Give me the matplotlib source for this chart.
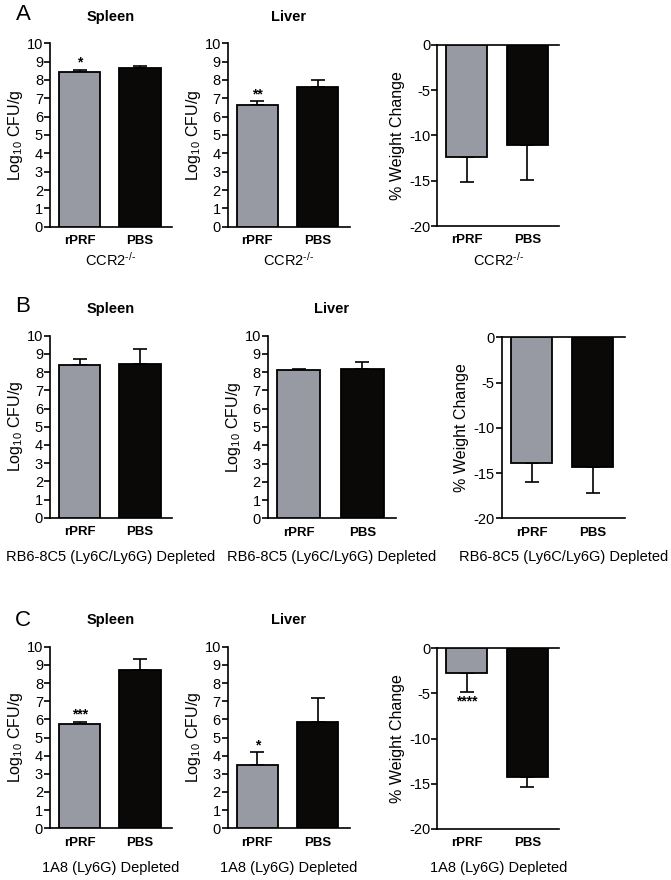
import matplotlib
matplotlib.use("Agg")
import matplotlib.pyplot as plt

plt.rcParams["font.family"] = ["Liberation Sans", "DejaVu Sans"]
plt.rcParams["axes.unicode_minus"] = False
plt.rcParams["mathtext.fontset"] = "custom"
plt.rcParams["mathtext.rm"] = "Liberation Sans"
plt.rcParams["mathtext.it"] = "Liberation Sans"

groups = ["rPRF", "PBS"]
bar_colors = ["#979aa2", "#0b0808"]

# A: CCR2-/-
a_spleen = [8.46, 8.67]
a_spleen_err = [0.09, 0.10]
a_spleen_stars = ["*", ""]
a_liver = [6.64, 7.64]
a_liver_err = [0.21, 0.36]
a_liver_stars = ["**", ""]
a_weight = [-12.4, -11.0]
a_weight_err = [2.7, 3.9]
a_weight_stars = ["", ""]

# B: RB6-8C5 depleted
b_spleen = [8.39, 8.45]
b_spleen_err = [0.33, 0.80]
b_spleen_stars = ["", ""]
b_liver = [8.12, 8.20]
b_liver_err = [0.07, 0.34]
b_liver_stars = ["", ""]
b_weight = [-13.9, -14.3]
b_weight_err = [2.05, 2.9]
b_weight_stars = ["", ""]

# C: 1A8 depleted
c_spleen = [5.72, 8.72]
c_spleen_err = [0.15, 0.60]
c_spleen_stars = ["***", ""]
c_liver = [3.49, 5.83]
c_liver_err = [0.69, 1.33]
c_liver_stars = ["*", ""]
c_weight = [-2.7, -14.23]
c_weight_err = [2.14, 1.11]
c_weight_stars = ["****", ""]

row_labels = ["A", "B", "C"]
group_labels = ["CCR2$^{\\text{-/-}}$", "RB6-8C5 (Ly6C/Ly6G) Depleted", "1A8 (Ly6G) Depleted"]

W, H = 671, 880
fig = plt.figure(figsize=(W / 100, H / 100), dpi=100)


def add_axes(x0, y0, x1, y1):
    # pixel box -> figure fraction
    return fig.add_axes([x0 / W, 1 - y1 / H, (x1 - x0) / W, (y1 - y0) / H])


def ftext(x, y, s, **kw):
    fig.text(x / W, 1 - y / H, s, **kw)


def style_axes(ax):
    for sp in ax.spines.values():
        sp.set_linewidth(1.2)
    ax.tick_params(axis="y", length=4, width=1.2, labelsize=10.5, pad=1)
    ax.tick_params(axis="x", length=0, pad=6)
    ax.set_xticks([0, 1])
    ax.set_xticklabels(groups, fontweight="bold", fontsize=9.5)
    ax.set_xlim(-0.49, 1.53)


def plot_cfu(ax, values, errs, stars):
    ax.bar([0, 1], values, width=0.68, color=bar_colors, edgecolor="black",
           linewidth=1.3, zorder=3)
    ax.errorbar([0, 1], values, yerr=[[0, 0], errs], fmt="none", ecolor="black",
                elinewidth=1.2, capsize=5, capthick=1.2, zorder=2)
    for i, s in enumerate(stars):
        if s:
            ax.annotate(s, xy=(i, values[i] + errs[i]), xytext=(0, 0),
                        textcoords="offset points", ha="center", va="bottom",
                        fontsize=10, fontweight="bold")
    ax.set_ylim(0, 10)
    ax.set_yticks(range(0, 11))
    ax.spines["top"].set_visible(False)
    ax.spines["right"].set_visible(False)
    ax.set_ylabel("Log$_{10}$ CFU/g", fontsize=11.5, labelpad=1)
    style_axes(ax)


def plot_weight(ax, values, errs, stars):
    ax.bar([0, 1], values, width=0.68, color=bar_colors, edgecolor="black",
           linewidth=1.3, zorder=3)
    ax.errorbar([0, 1], values, yerr=[errs, [0, 0]], fmt="none", ecolor="black",
                elinewidth=1.2, capsize=5, capthick=1.2, zorder=2)
    for i, s in enumerate(stars):
        if s:
            ax.annotate(s, xy=(i, values[i] - errs[i]), xytext=(0, -2),
                        textcoords="offset points", ha="center", va="top",
                        fontsize=10, fontweight="bold")
    ax.set_ylim(-20, 0)
    ax.set_yticks([0, -5, -10, -15, -20])
    ax.set_yticklabels(["0", "-5", "-10", "-15", "-20"])
    ax.spines["right"].set_visible(False)
    ax.set_ylabel("% Weight Change", fontsize=11.5, labelpad=3)
    style_axes(ax)


# pixel boxes for each row: spleen, liver, weight
boxes = [
    [(50, 43.3, 172, 226.7), (227.7, 43.3, 350, 226.7), (437.3, 45, 559.3, 226)],
    [(50, 335.7, 172, 517.7), (267.7, 335.7, 396, 518.3), (501.7, 337.3, 625, 518.3)],
    [(50, 646.7, 172, 828.3), (227.7, 646.7, 350, 828.3), (437.3, 648.3, 559.3, 828.7)],
]
data = [
    [(a_spleen, a_spleen_err, a_spleen_stars), (a_liver, a_liver_err, a_liver_stars),
     (a_weight, a_weight_err, a_weight_stars)],
    [(b_spleen, b_spleen_err, b_spleen_stars), (b_liver, b_liver_err, b_liver_stars),
     (b_weight, b_weight_err, b_weight_stars)],
    [(c_spleen, c_spleen_err, c_spleen_stars), (c_liver, c_liver_err, c_liver_stars),
     (c_weight, c_weight_err, c_weight_stars)],
]
letter_y = [15, 306, 620]
title_y = [17, 309, 620]
group_y = [260, 557, 868]

for r in range(3):
    ftext(23, letter_y[r], row_labels[r], fontsize=16, ha="center", va="center")
    for c in range(3):
        x0, y0, x1, y1 = boxes[r][c]
        ax = add_axes(x0, y0, x1, y1)
        vals, errs, stars = data[r][c]
        if c < 2:
            plot_cfu(ax, vals, errs, stars)
            ftext((x0 + x1) / 2, title_y[r], ["Spleen", "Liver"][c],
                  fontsize=10.5, fontweight="bold", ha="center", va="center")
        else:
            plot_weight(ax, vals, errs, stars)
        ftext((x0 + x1) / 2, group_y[r], group_labels[r], fontsize=10.5,
              ha="center", va="center")

fig.savefig("out.png", dpi=100)
